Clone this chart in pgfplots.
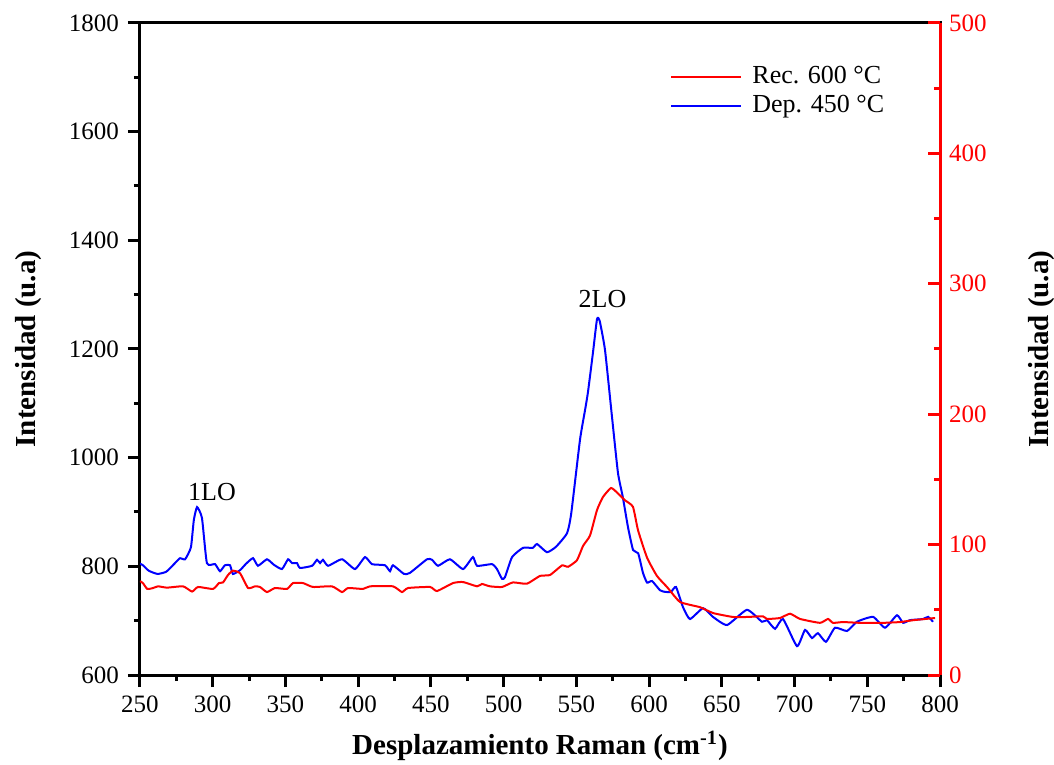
\documentclass[border=0pt]{standalone}
\usepackage{fontspec}
\setmainfont{Liberation Serif}
\usepackage{pgfplots}
\pgfplotsset{compat=1.18}
\begin{document}
\fontsize{13}{15}\selectfont
\begin{tikzpicture}
\begin{axis}[name=ax, scale only axis, width=400pt, height=326pt,
 xmin=250,xmax=800,ymin=600,ymax=1800,
 xtick distance=50, ytick distance=200, minor x tick num=1, minor y tick num=1,
 xtick pos=bottom, ytick pos=left, tick align=outside,
 major tick length=6pt, minor tick length=3pt,
 axis line style={line width=1.5pt},
 tick style={black, line width=1.5pt},
 tick label style={font=\fontsize{12.5}{14}\selectfont},
 /pgf/number format/assume math mode=true,
 /pgf/number format/1000 sep={},
 xlabel={Desplazamiento Raman (cm\textsuperscript{-1})},
 ylabel={Intensidad (u.a)},
 ylabel shift=5pt,
 label style={font=\fontsize{14.5}{17}\selectfont\bfseries},
]
\addplot[blue, line width=1pt, smooth, tension=0.3] coordinates {
(250,805) (252,802) (256,792) (262,786) (268,790) (273,803) (277.5,815) (281,813) (285,835) (287,885) (289.2,909) (292.6,889) (296,806) (301.6,804) (305,791) (308.4,802) (311.9,802) (313.9,786) (318.8,793) (323,805) (327.7,815) (331.1,801) (337.3,813) (342,803) (347.6,795) (351.8,813) (354.5,806) (357.9,806) (360,797) (368.3,801) (371.7,812) (373.8,806) (375.8,812) (379.3,801) (388.9,813) (397.8,795) (404.7,817) (409.5,804) (418.4,802) (421.9,791) (423.9,802) (431.5,786) (435.6,788) (447.3,813) (450.8,812) (454.9,801) (463.1,813) (472.1,795) (478.9,817) (481.7,801) (492,804) (495.4,795) (498.9,777) (500.9,780) (505.8,817) (513.3,834) (520,834) (523,841) (529.8,826) (536,836) (543.6,861) (546.5,898) (552.5,1033) (556,1088) (558,1121) (561.4,1193) (564.2,1255) (566,1252) (569.7,1198) (574.5,1075) (578.6,972) (581.9,928) (585.5,872) (589,830) (592.5,824) (595.8,788) (598.6,770) (602,773) (607.5,756) (611,753) (615.1,753) (618.5,762) (623.3,725) (628.1,703) (637.1,723) (643.9,707) (653.6,692) (667.3,720) (677.6,698) (681,701) (686.6,685) (692.1,703) (701.7,653) (707.2,683) (712,668) (716.1,677) (721.6,661) (727.8,687) (736.1,681) (742.9,698) (754,707) (762.2,687) (770.4,710) (774.6,696) (779.4,701) (788.3,703) (791.8,707) (795.2,698)
};
\node at (axis cs:299.5,937) {1LO};
\node at (axis cs:568,1292) {2LO};
\end{axis}
\begin{axis}[scale only axis, width=400pt, height=326pt,
 xmin=250,xmax=800,ymin=0,ymax=500,
 axis x line=none, axis y line*=right,
 ytick distance=100, minor y tick num=1, tick align=inside,
 major tick length=6pt, minor tick length=3pt,
 y axis line style={red, line width=1.5pt, -},
 tick style={red, line width=1.5pt},
 yticklabel style={red, font=\fontsize{12.5}{14}\selectfont},
 /pgf/number format/assume math mode=true,
 ylabel={Intensidad (u.a)},
 ylabel shift=12pt,
 label style={font=\fontsize{14.5}{17}\selectfont\bfseries, black},
 legend style={draw=none, fill=none, at={(0.6625,0.94)}, anchor=north west, font=\fontsize{13}{15}\selectfont, inner sep=0pt},
 legend cell align=left,
 legend image code/.code={\draw[#1] (0pt,0pt) -- (35pt,0pt);},
 legend style={nodes={inner xsep=5pt}},
]
\addplot[red, line width=1pt, smooth, tension=0.3] coordinates {
(250,72) (252,70.5) (255,66) (259,66.7) (262.4,68) (268.6,67) (279.6,68) (285.8,64) (289.9,67.5) (300.2,66) (304.3,70.5) (307.1,71) (310.5,76.7) (313.9,80) (318.8,78) (324.3,66.7) (329.1,68) (332.5,67.5) (337.3,63.6) (342.8,66.7) (351.1,66) (355.2,70.5) (362.1,70.5) (368.9,67.5) (382,68) (388.9,63.6) (393,66.7) (403.3,66) (408.1,68) (423.9,68) (430.1,63.6) (434.3,66.7) (449.4,67.5) (454.2,64.4) (465.2,70.5) (472.1,71.3) (481.7,68) (485.1,69.8) (490.6,68) (498.9,67.5) (506.4,71) (516,70) (525,76) (531.9,76.7) (540.1,84) (544.3,83) (550.4,88) (554.6,99) (559.4,107) (564.2,126.5) (568.3,136.5) (573.8,143.4) (577.9,140) (583.4,134) (588.9,129) (592.4,111) (598.6,90) (605.4,76) (612.3,67.5) (621.3,56) (635,52) (644,47.5) (657.7,44.5) (667.3,44.5) (678.3,45) (681,43) (690,43.7) (696.9,47) (703.8,43) (717.5,40) (723,43) (726.4,40) (733.3,40.6) (745,40) (760.8,40) (772.5,40.6) (781.4,42) (796.6,43.7)
};
\addlegendentry{Rec. 600 °C}
\addlegendimage{blue, line width=1pt}
\addlegendentry{Dep. 450 °C}
\end{axis}
\pgfresetboundingbox
\path ([shift={(-70pt,-45pt)}]ax.south west) rectangle ([shift={(57pt,11.5pt)}]ax.north east);
\end{tikzpicture}
\end{document}
